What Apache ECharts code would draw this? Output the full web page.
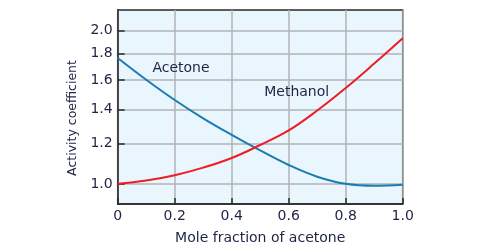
<!DOCTYPE html>
<html>
<head>
<meta charset="utf-8">
<script src="https://cdn.jsdelivr.net/npm/echarts@6/dist/echarts.min.js"></script>
<style>html,body{margin:0;padding:0;background:#fff}#c{width:500px;height:250px}</style>
</head>
<body>
<div id="c"></div>
<script>
const moleFraction = [0, 0.1, 0.2, 0.3, 0.4, 0.5, 0.6, 0.7, 0.8, 0.9, 1.0];
const acetone = [1.766, 1.601, 1.461, 1.345, 1.248, 1.163, 1.089, 1.033, 1.0, 0.991, 0.996];
const methanol = [1.0, 1.015, 1.040, 1.076, 1.124, 1.192, 1.273, 1.393, 1.542, 1.722, 1.931];
const yTicks = [1.0, 1.2, 1.4, 1.6, 1.8, 2.0];
const xTicks = [0, 0.2, 0.4, 0.6, 0.8, 1.0];
const xTickLabels = ['0', '0.2', '0.4', '0.6', '0.8', '1.0'];
const yTickLabels = ['1.0', '1.2', '1.4', '1.6', '1.8', '2.0'];
const seriesNames = ['Acetone', 'Methanol'];
const labelAnchors = [[0.222, 1.684], [0.628, 1.515]];

const textColor = '#1e2442';
const font = 'DejaVu Sans';
const chart = echarts.init(document.getElementById('c'), null, {renderer: 'canvas'});
function pairs(ys) { return moleFraction.map((x, i) => [x, ys[i]]); }
function lookup(ticks, labels, v) {
  const n = Number(v);
  let best = 0;
  ticks.forEach((t, i) => { if (Math.abs(t - n) < Math.abs(ticks[best] - n)) best = i; });
  return labels[best];
}
function mkLabel(i) {
  return {
    symbol: 'rect', symbolSize: [1, 1],
    itemStyle: {color: 'transparent'},
    label: {show: true, position: 'inside', color: textColor, fontFamily: font, fontSize: 14, formatter: seriesNames[i]},
    data: [{coord: labelAnchors[i], value: seriesNames[i]}],
    animation: false
  };
}
chart.setOption({
  animation: false,
  grid: {left: 117.7, right: 97.3, top: 10, bottom: 41, show: true, backgroundColor: '#eaf6fd', borderColor: '#2a2a2a', borderWidth: 1.5},
  xAxis: {
    type: 'value', min: 0, max: 1, interval: 0.2,
    name: 'Mole fraction of acetone', nameLocation: 'middle', nameGap: 27,
    nameTextStyle: {color: textColor, fontFamily: font, fontSize: 14},
    axisLine: {show: true, lineStyle: {color: '#2a2a2a', width: 1.5}},
    axisTick: {show: true, inside: true, length: 6, lineStyle: {color: '#2a2a2a', width: 1.5}, customValues: xTicks},
    axisLabel: {color: textColor, fontFamily: font, fontSize: 14, margin: 5, customValues: xTicks,
      formatter: v => lookup(xTicks, xTickLabels, v)},
    splitLine: {show: true, lineStyle: {color: '#b3b3b3', width: 1.5}}
  },
  yAxis: {
    type: 'log', logBase: 10, min: 0.913, max: 2.194,
    name: 'Activity coefficient', nameLocation: 'middle', nameGap: 33, nameRotate: 90,
    nameTextStyle: {color: textColor, fontFamily: font, fontSize: 12.5, padding: [0, 22, 0, 0]},
    axisLine: {show: true, lineStyle: {color: '#2a2a2a', width: 1.5}},
    axisTick: {show: true, inside: true, length: 7, lineStyle: {color: '#2a2a2a', width: 1.5}, customValues: yTicks},
    axisLabel: {color: textColor, fontFamily: font, fontSize: 14, margin: 5, customValues: yTicks,
      formatter: v => lookup(yTicks, yTickLabels, v)},
    splitLine: {show: true, lineStyle: {color: '#b3b3b3', width: 1.5}},
    minorTick: {show: false}
  },
  series: [
    {name: 'Acetone', type: 'line', data: pairs(acetone), smooth: 0.4, showSymbol: false, symbol: 'none',
      lineStyle: {color: '#1b7cb3', width: 2}, markPoint: mkLabel(0), z: 3},
    {name: 'Methanol', type: 'line', data: pairs(methanol), smooth: 0.4, showSymbol: false, symbol: 'none',
      lineStyle: {color: '#ee1c24', width: 2}, markPoint: mkLabel(1), z: 4}
  ]
});
</script>
</body>
</html>
